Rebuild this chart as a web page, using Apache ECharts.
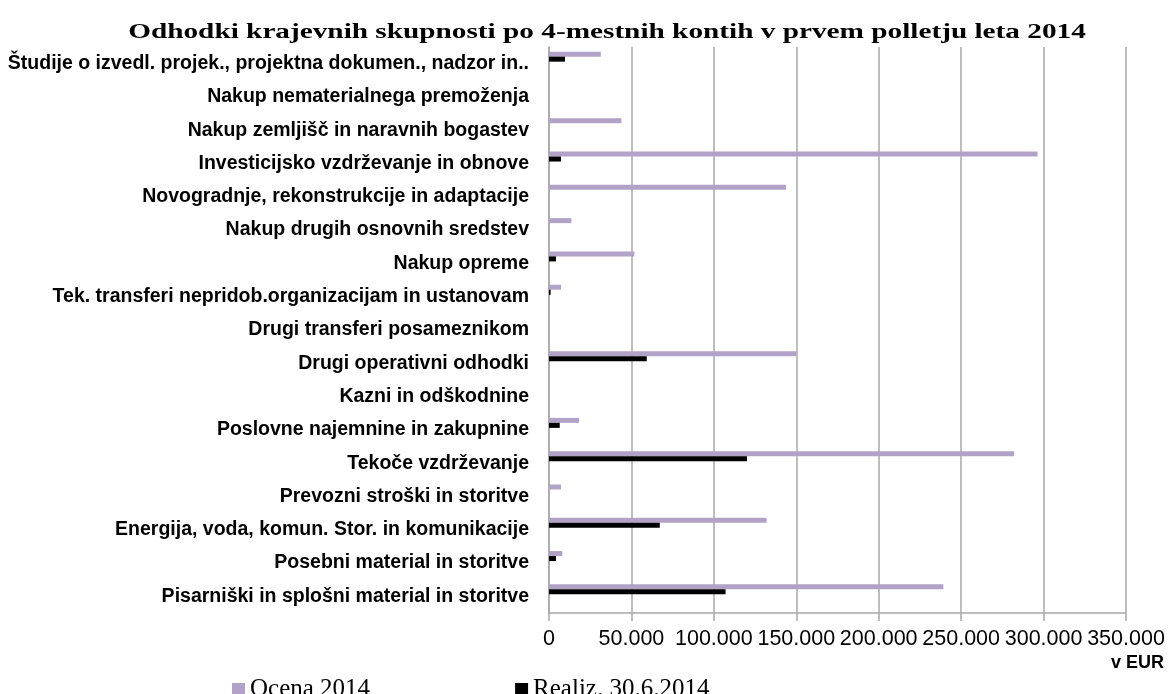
<!DOCTYPE html>
<html>

<head>
    <meta charset="utf-8" />
    <style type="text/css">
        html, body {
            margin: 0;
            padding: 0;
            background: #fff;
        }
    </style>
    <script src="https://cdn.jsdelivr.net/npm/echarts@6/dist/echarts.min.js"></script>
</head>

<body>
    <div id="main" style="width: 1168px; height: 694px"></div>
    <script type="text/javascript">
        // 数据 (od zgoraj navzdol)
        var categories = [
            "Študije o izvedl. projek., projektna dokumen., nadzor in..",
            "Nakup nematerialnega premoženja",
            "Nakup zemljišč in naravnih bogastev",
            "Investicijsko vzdrževanje in obnove",
            "Novogradnje, rekonstrukcije in adaptacije",
            "Nakup drugih osnovnih sredstev",
            "Nakup opreme",
            "Tek. transferi nepridob.organizacijam in ustanovam",
            "Drugi transferi posameznikom",
            "Drugi operativni odhodki",
            "Kazni in odškodnine",
            "Poslovne najemnine in zakupnine",
            "Tekoče vzdrževanje",
            "Prevozni stroški in storitve",
            "Energija, voda, komun. Stor. in komunikacije",
            "Posebni material in storitve",
            "Pisarniški in splošni material in storitve"
        ];
        var ocena2014 = [31400, 0, 43900, 296300, 143800, 13600, 51800, 7300, 0, 150000, 0, 18200, 282100, 7300, 132000, 8100, 239200];
        var realiz2014 = [9700, 0, 0, 7300, 0, 0, 4250, 1000, 0, 59300, 0, 6500, 120100, 0, 67200, 4250, 107100];
        var xTicks = [0, 50000, 100000, 150000, 200000, 250000, 300000, 350000];

        var titleText = "Odhodki krajevnih skupnosti po 4-mestnih kontih v prvem polletju leta 2014";
        var gridColor = "#a8a8a8";

        function fmt(v) {
            return String(v).replace(/\B(?=(\d{3})+(?!\d))/g, ".");
        }

        var myChart = echarts.init(document.getElementById("main"));
        var option = {
            animation: false,
            backgroundColor: "#fff",
            grid: {
                left: 549,
                right: 42,
                top: 47,
                bottom: 81,
                containLabel: false,
                outerBoundsMode: "none"
            },
            legend: {
                data: ["Ocena 2014", "Realiz. 30.6.2014"],
                left: 227,
                top: 672,
                icon: "rect",
                itemWidth: 13,
                itemHeight: 13,
                itemGap: 145,
                textStyle: {
                    fontFamily: "Liberation Serif",
                    fontSize: 25,
                    color: "#000"
                }
            },
            xAxis: {
                type: "value",
                min: xTicks[0],
                max: xTicks[xTicks.length - 1],
                interval: xTicks[1] - xTicks[0],
                axisLine: { show: true, lineStyle: { color: gridColor, width: 1.5 } },
                axisTick: { show: true, length: 8, lineStyle: { color: gridColor, width: 1.5 } },
                splitLine: {
                    show: true,
                    showMinLine: true,
                    showMaxLine: true,
                    lineStyle: { color: gridColor, width: 1.5 }
                },
                axisLabel: {
                    margin: 15,
                    hideOverlap: false,
                    showMinLabel: true,
                    showMaxLabel: true,
                    fontFamily: "Liberation Sans",
                    fontSize: 21.5,
                    color: "#000",
                    formatter: fmt
                }
            },
            yAxis: {
                type: "category",
                data: categories,
                inverse: true,
                axisLine: { show: true, lineStyle: { color: gridColor, width: 1.5 } },
                axisTick: { show: false },
                axisLabel: {
                    margin: 20,
                    interval: 0,
                    fontFamily: "Liberation Sans",
                    fontWeight: "bold",
                    fontSize: 19.5,
                    color: "#000"
                }
            },
            series: [
                {
                    name: "Ocena 2014",
                    type: "bar",
                    data: ocena2014,
                    barWidth: 5,
                    barGap: "0%",
                    itemStyle: { color: "#b3a2c7" }
                },
                {
                    name: "Realiz. 30.6.2014",
                    type: "bar",
                    data: realiz2014,
                    barWidth: 5,
                    barGap: "0%",
                    itemStyle: { color: "#000" }
                },
                {
                    // prazna serija, da sta stolpca zamaknjena navzgor kot v Excelu
                    name: "_pad",
                    type: "bar",
                    data: [],
                    barWidth: 14,
                    barGap: "0%",
                    silent: true
                }
            ],
            graphic: [
                {
                    type: "text",
                    x: 607,
                    y: 32,
                    scaleX: 1.33,
                    style: {
                        text: titleText,
                        font: "bold 22px 'Liberation Serif'",
                        fill: "#000",
                        textAlign: "center",
                        textVerticalAlign: "middle"
                    }
                },
                {
                    type: "text",
                    x: 1164,
                    y: 663,
                    style: {
                        text: "v EUR",
                        font: "bold 18px 'Liberation Sans'",
                        fill: "#000",
                        textAlign: "right",
                        textVerticalAlign: "middle"
                    }
                }
            ]
        };
        myChart.setOption(option);
    </script>
</body>

</html>
